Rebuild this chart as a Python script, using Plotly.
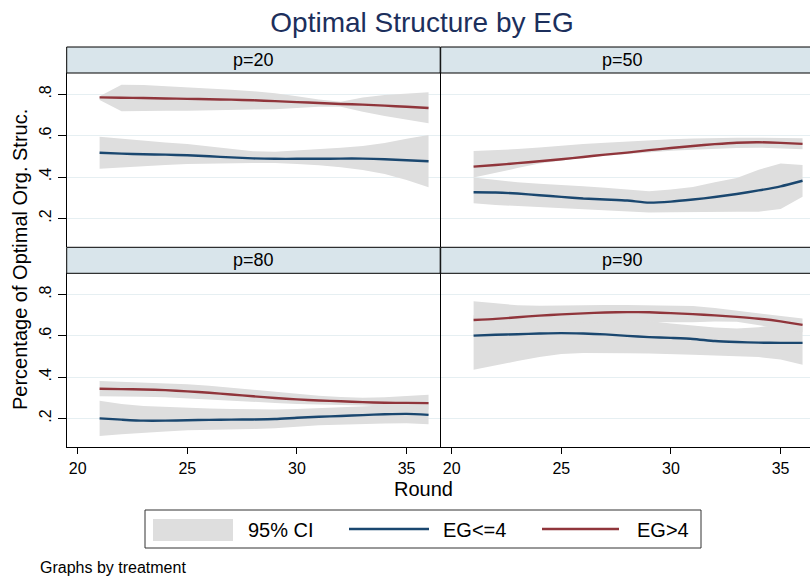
import plotly.graph_objects as go

# ---------------- data ----------------
rounds = [21, 22, 23, 24, 25, 26, 27, 28, 29, 30, 31, 32, 33, 34, 35, 36]
panels = ["p=20", "p=50", "p=80", "p=90"]

# p=20
lo_p20 = [.517, .513, .510, .508, .505, .500, .495, .490, .488, .488, .488, .489, .489, .486, .481, .476]
lo_p20_up = [.595, .585, .575, .567, .560, .548, .535, .525, .522, .528, .535, .542, .550, .565, .585, .603]
lo_p20_dn = [.440, .447, .453, .458, .463, .465, .467, .468, .468, .463, .457, .447, .434, .415, .385, .350]
hi_p20 = [.785, .783, .782, .780, .778, .776, .774, .771, .767, .762, .758, .753, .750, .745, .740, .734]
hi_p20_up = [.790, .846, .845, .840, .835, .830, .822, .815, .805, .790, .775, .764, .785, .797, .803, .810]
hi_p20_dn = [.772, .718, .718, .720, .721, .722, .724, .727, .728, .735, .740, .740, .716, .695, .676, .660]

# p=50
lo_p50 = [.326, .325, .320, .312, .304, .296, .291, .286, .276, .281, .291, .303, .318, .335, .355, .382]
lo_p50_up = [.397, .385, .375, .367, .362, .355, .348, .341, .331, .340, .352, .375, .395, .435, .465, .458]
lo_p50_dn = [.273, .265, .258, .252, .247, .242, .238, .233, .228, .229, .231, .232, .232, .232, .245, .305]
hi_p50 = [.450, .458, .467, .476, .486, .497, .508, .518, .530, .540, .550, .559, .566, .568, .565, .560]
hi_p50_up = [.526, .530, .535, .543, .552, .560, .566, .572, .577, .582, .586, .589, .590, .590, .589, .587]
hi_p50_dn = [.397, .420, .443, .465, .480, .493, .503, .512, .520, .527, .532, .537, .540, .542, .538, .534]

# p=80
lo_p80 = [.200, .194, .189, .189, .191, .193, .194, .195, .197, .203, .208, .212, .216, .220, .222, .217]
lo_p80_up = [.285, .270, .260, .255, .251, .248, .246, .244, .243, .246, .250, .254, .259, .264, .267, .271]
lo_p80_dn = [.115, .123, .131, .137, .142, .145, .147, .149, .152, .160, .167, .171, .173, .175, .176, .172]
hi_p80 = [.344, .342, .340, .337, .331, .324, .316, .307, .299, .292, .287, .283, .279, .276, .275, .274]
hi_p80_up = [.381, .378, .375, .371, .366, .358, .348, .337, .327, .318, .310, .304, .300, .302, .307, .314]
hi_p80_dn = [.307, .306, .305, .303, .299, .293, .287, .281, .275, .270, .266, .264, .262, .258, .251, .243]

# p=90
lo_p90 = [.601, .605, .608, .611, .613, .611, .607, .600, .594, .590, .585, .575, .570, .567, .566, .566]
lo_p90_up = [.700, .695, .690, .690, .690, .688, .685, .680, .672, .660, .650, .640, .636, .642, .655, .660]
lo_p90_dn = [.436, .458, .478, .498, .512, .517, .517, .516, .515, .512, .508, .505, .502, .497, .485, .460]
hi_p90 = [.677, .682, .690, .698, .704, .709, .713, .715, .714, .710, .705, .699, .692, .683, .670, .653]
hi_p90_up = [.768, .757, .748, .746, .748, .749, .750, .750, .749, .747, .745, .735, .722, .710, .698, .684]
hi_p90_dn = [.600, .625, .640, .650, .660, .665, .668, .670, .668, .666, .666, .670, .668, .650, .635, .618]

y_ticks = [0.2, 0.4, 0.6, 0.8]
y_ticklabels = [".2", ".4", ".6", ".8"]
x_ticks = [20, 25, 30, 35]

series = [
    (lo_p20, lo_p20_up, lo_p20_dn, hi_p20, hi_p20_up, hi_p20_dn),
    (lo_p50, lo_p50_up, lo_p50_dn, hi_p50, hi_p50_up, hi_p50_dn),
    (lo_p80, lo_p80_up, lo_p80_dn, hi_p80, hi_p80_up, hi_p80_dn),
    (lo_p90, lo_p90_up, lo_p90_dn, hi_p90, hi_p90_up, hi_p90_dn),
]

# ---------------- style ----------------
W, H = 810, 579
FONT = "Liberation Sans, Arial, Helvetica, sans-serif"
BLUE = "#1a476f"
RED = "#90353b"
CI = "#dedede"
GRID = "#e6eff2"
STRIP = "#d9e5eb"


def px(x):
    return x / W


def py(y):
    return 1 - y / H


# panel geometry (pixels)
cols = [(66.7, 440.2), (440.7, 810.0)]
rows = [(73.0, 247.3), (273.3, 447.3)]
strips = [(47.0, 73.0), (247.3, 273.3)]
x_px_per_unit = 21.93
x0 = 19.5

fig = go.Figure()

for i, (lo, lo_up, lo_dn, hi, hi_up, hi_dn) in enumerate(series):
    r, c = divmod(i, 2)
    ax = "" if i == 0 else str(i + 1)
    xa, ya = "x" + ax, "y" + ax
    for up, dn in [(lo_up, lo_dn), (hi_up, hi_dn)]:
        fig.add_trace(go.Scatter(
            x=rounds + rounds[::-1], y=up + dn[::-1], xaxis=xa, yaxis=ya,
            fill="toself", fillcolor=CI, line=dict(width=0),
            mode="lines", showlegend=False, hoverinfo="skip"))
    fig.add_trace(go.Scatter(x=rounds, y=lo, xaxis=xa, yaxis=ya, mode="lines",
                             line=dict(color=BLUE, width=2.4, shape="spline", smoothing=0.6),
                             showlegend=False))
    fig.add_trace(go.Scatter(x=rounds, y=hi, xaxis=xa, yaxis=ya, mode="lines",
                             line=dict(color=RED, width=2.4, shape="spline", smoothing=0.6),
                             showlegend=False))

    xl, xr = cols[c]
    yt, yb = rows[r]
    x1 = x0 + (xr - xl) / x_px_per_unit
    bottom = r == 1
    left = c == 0
    fig.layout["xaxis" + ax] = dict(
        domain=[px(xl), px(xr)], anchor=ya, range=[x0, x1],
        showgrid=False, zeroline=False,
        showline=bottom, linecolor="black", linewidth=1,
        tickvals=x_ticks, showticklabels=bottom,
        ticks="outside" if bottom else "", ticklen=6, tickcolor="black",
        tickfont=dict(size=16, color="black", family=FONT))
    fig.layout["yaxis" + ax] = dict(
        domain=[py(yb), py(yt)], anchor=xa, range=[0.06, 0.903],
        showgrid=True, gridcolor=GRID, gridwidth=1, zeroline=False,
        showline=True, linecolor="black", linewidth=1,
        tickvals=y_ticks, ticktext=y_ticklabels, showticklabels=left,
        ticks="outside" if left else "", ticklen=8, tickcolor="black",
        tickangle=-90, tickfont=dict(size=16, color="black", family=FONT))

    # strip
    st, sb = strips[r]
    fig.add_shape(type="rect", xref="paper", yref="paper",
                  x0=px(xl), x1=px(xr + (2 if c == 1 else 0)), y0=py(sb), y1=py(st),
                  fillcolor=STRIP, line=dict(color="black", width=1), layer="above")
    fig.add_annotation(x=px((xl + min(xr, 808)) / 2 + (0 if c == 0 else -2)), y=py((st + sb) / 2),
                       xref="paper", yref="paper", text=panels[i], showarrow=False,
                       font=dict(size=18, color="black", family=FONT),
                       xanchor="center", yanchor="middle")

# axis titles
fig.add_annotation(x=px(20), y=py(260), xref="paper", yref="paper",
                   text="Percentage of Optimal Org. Struc.", textangle=-90, showarrow=False,
                   font=dict(size=20, color="black", family=FONT), xanchor="center", yanchor="middle")
fig.add_annotation(x=px(423), y=py(489), xref="paper", yref="paper", text="Round",
                   showarrow=False, font=dict(size=20, color="black", family=FONT),
                   xanchor="center", yanchor="middle")

# legend (drawn in paper space)
fig.add_shape(type="rect", xref="paper", yref="paper", x0=px(145), x1=px(701),
              y0=py(548), y1=py(510), fillcolor="white", line=dict(color="#333333", width=1))
fig.add_shape(type="rect", xref="paper", yref="paper", x0=px(153), x1=px(233),
              y0=py(541), y1=py(519), fillcolor=CI, line=dict(width=0))
fig.add_shape(type="line", xref="paper", yref="paper", x0=px(349), x1=px(429),
              y0=py(529), y1=py(529), line=dict(color=BLUE, width=2.5))
fig.add_shape(type="line", xref="paper", yref="paper", x0=px(542), x1=px(619),
              y0=py(529), y1=py(529), line=dict(color=RED, width=2.5))
for tx, label in [(246, "95% CI"), (441, "EG<=4"), (635, "EG>4")]:
    fig.add_annotation(x=px(tx), y=py(529.5), xref="paper", yref="paper", text=label,
                       showarrow=False, xanchor="left", yanchor="middle",
                       font=dict(size=20, color="black", family=FONT))

fig.add_annotation(x=px(38), y=py(567), xref="paper", yref="paper", text="Graphs by treatment",
                   showarrow=False, xanchor="left", yanchor="middle",
                   font=dict(size=16, color="black", family=FONT))

fig.update_layout(
    width=W, height=H, margin=dict(l=0, r=0, t=0, b=0),
    paper_bgcolor="white", plot_bgcolor="white",
    title=dict(text="Optimal Structure by EG", x=px(422), xanchor="center",
               y=py(22), yanchor="middle",
               font=dict(size=28, color="#1c2f5c", family=FONT)),
    showlegend=False,
    font=dict(family=FONT),
)

fig.write_html("out.html")
